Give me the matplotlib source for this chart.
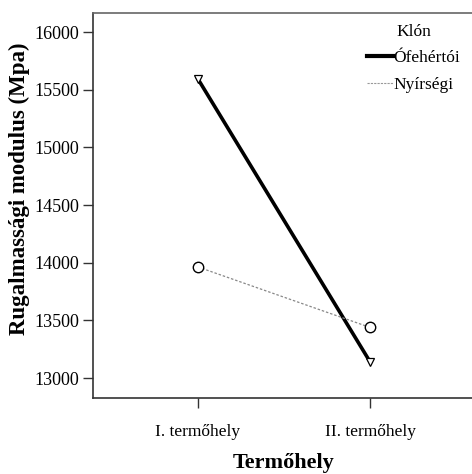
import matplotlib
matplotlib.use("Agg")
import matplotlib.pyplot as plt
from matplotlib.lines import Line2D

plt.rcParams['font.family'] = ['Liberation Serif', 'DejaVu Serif']

sites = ["I. termőhely", "II. termőhely"]
ofeherto = [15593, 13141]
nyirseg = [13963, 13439]
yticks = [13000, 13500, 14000, 14500, 15000, 15500, 16000]

fig = plt.figure(figsize=(4.72, 4.74), dpi=100)
ax = fig.add_axes([93 / 472, 1 - 398 / 474, 382 / 472, 385 / 474])

x = [1, 2]
ax.plot(x, ofeherto, color='black', lw=2.6, marker='v', ms=6,
        mfc='white', mec='black', mew=0.9, zorder=3)
ax.plot(x, nyirseg, color='#888888', lw=0.9, ls=(0, (2, 1.5)), marker='o', ms=7.5,
        mfc='white', mec='black', mew=1.0, zorder=3)

ax.set_xlim(0.39, 2.61)
ax.set_ylim(12827, 16165)
ax.set_xticks(x)
ax.set_xticklabels(sites)
ax.set_yticks(yticks)
ax.tick_params(axis='both', length=7, width=1, colors='#333333', labelcolor='black')
ax.tick_params(axis='x', pad=12, labelsize=12.5)
ax.tick_params(axis='y', pad=3, labelsize=13)
for s in ['left', 'bottom', 'top']:
    ax.spines[s].set_linewidth(1.2)
    ax.spines[s].set_color('#333333')
ax.spines['top'].set_color('#666666')
ax.spines['right'].set_visible(False)

ax.set_xlabel("Termőhely", fontsize=16, fontweight='bold', labelpad=9)
ax.set_ylabel("Rugalmassági modulus (Mpa)", fontsize=16.5, fontweight='bold', labelpad=3)
ax.yaxis.label.set_y(0.543)

handles = [Line2D([], [], color='black', lw=3),
           Line2D([], [], color='#999999', lw=0.8, ls=(0, (2, 1)))]
leg = ax.legend(handles, ["Ófehértói", "Nyírségi"], title="Klón",
                loc='upper left', bbox_to_anchor=(0.7, 0.99),
                frameon=False, fontsize=12.5, title_fontsize=12.5,
                handlelength=1.5, handletextpad=0.0, labelspacing=0.6,
                borderaxespad=0)

fig.savefig("out.png", dpi=100)
